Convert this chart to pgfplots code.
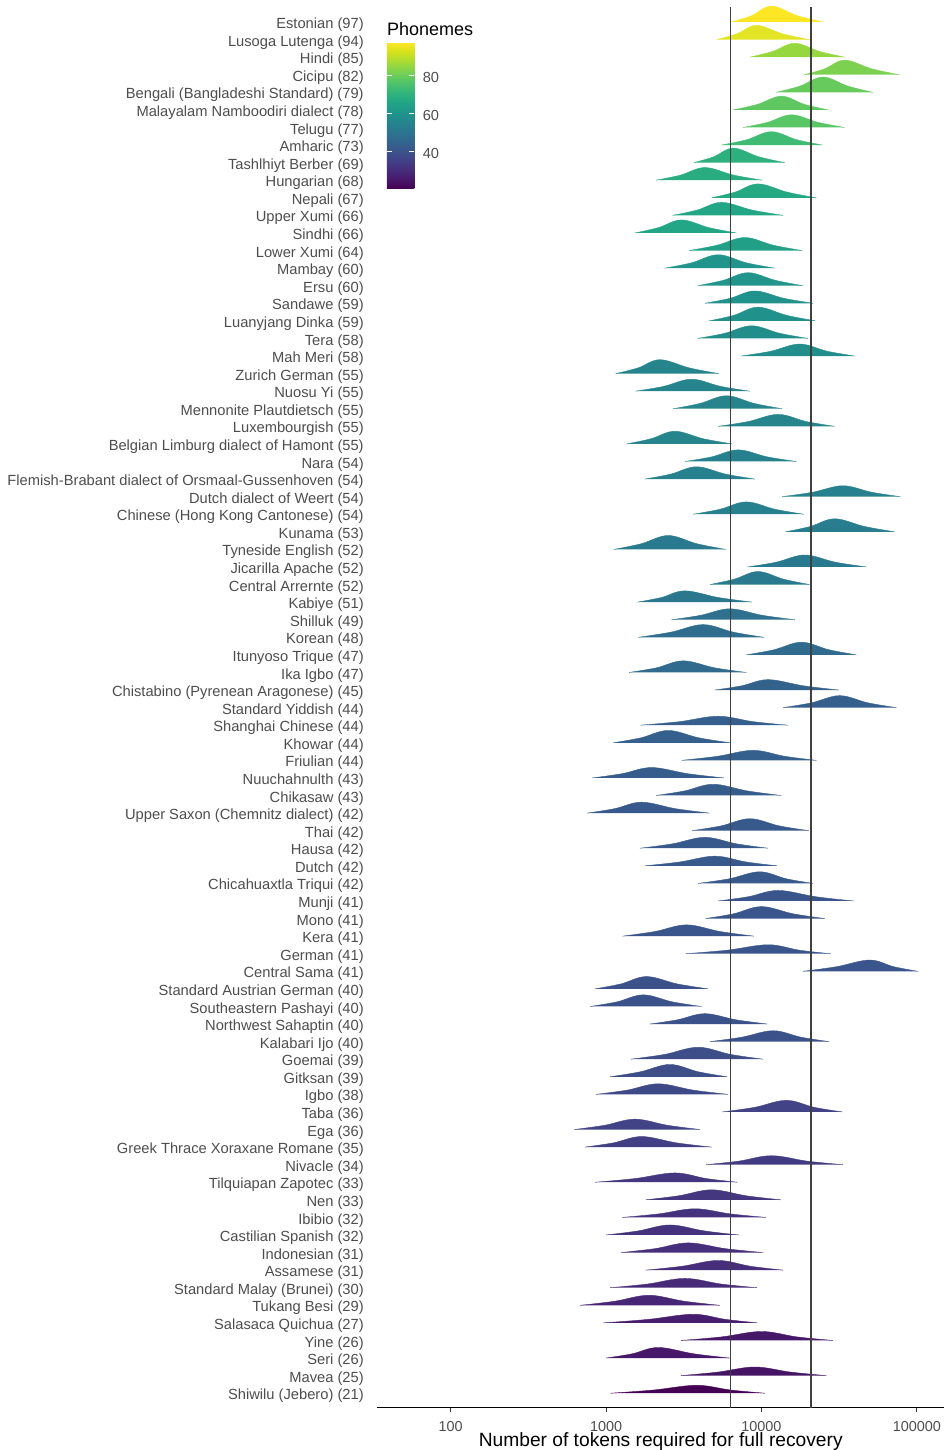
\documentclass[border=0pt]{standalone}
\usepackage{pgfplots}
\pgfplotsset{compat=1.18}
\usepackage{fontspec}
\setmainfont{Liberation Sans}
\definecolor{V0}{HTML}{440154}
\definecolor{V1}{HTML}{482475}
\definecolor{V2}{HTML}{414487}
\definecolor{V3}{HTML}{355F8D}
\definecolor{V4}{HTML}{2A788E}
\definecolor{V5}{HTML}{21918C}
\definecolor{V6}{HTML}{22A884}
\definecolor{V7}{HTML}{44BF70}
\definecolor{V8}{HTML}{7AD151}
\definecolor{V9}{HTML}{BDDF26}
\definecolor{V10}{HTML}{FDE725}
\definecolor{gray30}{HTML}{4D4D4D}
\colorlet{c97}{V10}
\colorlet{c94}{V10!60!V9}
\colorlet{c85}{V9!42!V8}
\colorlet{c82}{V9!3!V8}
\colorlet{c79}{V8!63!V7}
\colorlet{c78}{V8!50!V7}
\colorlet{c77}{V8!37!V7}
\colorlet{c73}{V7!84!V6}
\colorlet{c69}{V7!32!V6}
\colorlet{c68}{V7!18!V6}
\colorlet{c67}{V7!5!V6}
\colorlet{c66}{V6!92!V5}
\colorlet{c64}{V6!66!V5}
\colorlet{c60}{V6!13!V5}
\colorlet{c59}{V5}
\colorlet{c58}{V5!87!V4}
\colorlet{c55}{V5!47!V4}
\colorlet{c54}{V5!34!V4}
\colorlet{c53}{V5!21!V4}
\colorlet{c52}{V5!8!V4}
\colorlet{c51}{V4!95!V3}
\colorlet{c49}{V4!68!V3}
\colorlet{c48}{V4!55!V3}
\colorlet{c47}{V4!42!V3}
\colorlet{c45}{V4!16!V3}
\colorlet{c44}{V4!3!V3}
\colorlet{c43}{V3!89!V2}
\colorlet{c42}{V3!76!V2}
\colorlet{c41}{V3!63!V2}
\colorlet{c40}{V3!50!V2}
\colorlet{c39}{V3!37!V2}
\colorlet{c38}{V3!24!V2}
\colorlet{c36}{V2!97!V1}
\colorlet{c35}{V2!84!V1}
\colorlet{c34}{V2!71!V1}
\colorlet{c33}{V2!58!V1}
\colorlet{c32}{V2!45!V1}
\colorlet{c31}{V2!32!V1}
\colorlet{c30}{V2!18!V1}
\colorlet{c29}{V2!5!V1}
\colorlet{c27}{V1!79!V0}
\colorlet{c26}{V1!66!V0}
\colorlet{c25}{V1!53!V0}
\colorlet{c21}{V0}
\pgfplotsset{rd/.style={smooth, tension=0.6, line width=0.2pt}}
\begin{document}
\begin{tikzpicture}
\useasboundingbox (-188.75pt,-21.2pt) rectangle (283.75pt,703.8pt);
\begin{axis}[
  at={(0pt,0pt)}, anchor=south west,
  scale only axis, width=283.25pt, height=700.5pt,
  xmin=1.530, xmax=5.174,
  ymin=-0.876, ymax=78.82, y dir=reverse,
  axis x line*=bottom, axis y line*=left,
  x axis line style={-, line width=0.7pt, black},
  y axis line style={draw=none},
  xtick={2,3,4,5}, xticklabels={100,1000,10000,100000},
  tick align=outside, major tick length=2.2pt,
  xtick style={black!80, line width=0.5pt},
  ytick={0,1,...,78},
  ytick style={draw=none},
  yticklabels={Estonian (97),Lusoga Lutenga (94),Hindi (85),Cicipu (82),Bengali (Bangladeshi Standard) (79),Malayalam Namboodiri dialect (78),Telugu (77),Amharic (73),Tashlhiyt Berber (69),Hungarian (68),Nepali (67),Upper Xumi (66),Sindhi (66),Lower Xumi (64),Mambay (60),Ersu (60),Sandawe (59),Luanyjang Dinka (59),Tera (58),Mah Meri (58),Zurich German (55),Nuosu Yi (55),Mennonite Plautdietsch (55),Luxembourgish (55),Belgian Limburg dialect of Hamont (55),Nara (54),Flemish-Brabant dialect of Orsmaal-Gussenhoven (54),Dutch dialect of Weert (54),Chinese (Hong Kong Cantonese) (54),Kunama (53),Tyneside English (52),Jicarilla Apache (52),Central Arrernte (52),Kabiye (51),Shilluk (49),Korean (48),Itunyoso Trique (47),Ika Igbo (47),Chistabino (Pyrenean Aragonese) (45),Standard Yiddish (44),Shanghai Chinese (44),Khowar (44),Friulian (44),Nuuchahnulth (43),Chikasaw (43),Upper Saxon (Chemnitz dialect) (42),Thai (42),Hausa (42),Dutch (42),Chicahuaxtla Triqui (42),Munji (41),Mono (41),Kera (41),German (41),Central Sama (41),Standard Austrian German (40),Southeastern Pashayi (40),Northwest Sahaptin (40),Kalabari Ijo (40),Goemai (39),Gitksan (39),Igbo (38),Taba (36),Ega (36),Greek Thrace Xoraxane Romane (35),Nivacle (34),Tilquiapan Zapotec (33),Nen (33),Ibibio (32),Castilian Spanish (32),Indonesian (31),Assamese (31),Standard Malay (Brunei) (30),Tukang Besi (29),Salasaca Quichua (27),Yine (26),Seri (26),Mavea (25),Shiwilu (Jebero) (21)},
  yticklabel style={font=\fontsize{7.35}{8}\selectfont, text=gray30, inner xsep=0pt, yshift=-1.4pt},
  yticklabel shift=4.5pt,
  xticklabel style={font=\fontsize{7.2}{8}\selectfont, text=gray30, yshift=-1pt},
  xlabel={Number of tokens required for full recovery},
  xlabel style={font=\fontsize{9.6}{11}\selectfont, at={(axis description cs:0.5,0)}, anchor=center, yshift=-17.2pt},
  colormap/viridis,
  colorbar,
  point meta min=21, point meta max=97,
  colorbar style={
    at={(parent axis.north west)}, anchor=north west,
    xshift=-3.9pt, yshift=-18pt,
    scale only axis, width=13.8pt, height=72.85pt,
    ytick={40,60,80},
    yticklabel pos=right, ytick pos=both,
    tick align=inside, major tick length=2.75pt,
    tick style={white, line width=0.5pt},
    axis line style={draw=none},
    yticklabel style={font=\fontsize{7.3}{8}\selectfont, text=gray30, inner xsep=0pt, xshift=4pt, yshift=-1pt},
    /pgf/number format/assume math mode=true,
    title={Phonemes},
    title style={font=\fontsize{9}{10}\selectfont, at={(0,1)}, anchor=south west, inner sep=0pt, yshift=-2.5pt},
  },
]
\addplot[rd, fill=c97, draw=c97] coordinates {(3.807,0) (3.936,-0.36) (4.064,-0.91) (4.230,-0.36) (4.396,0)};
\addplot[rd, fill=c94, draw=c94] coordinates {(3.711,1) (3.840,0.68) (3.968,0.19) (4.139,0.68) (4.310,1)};
\addplot[rd, fill=c85, draw=c85] coordinates {(3.925,2) (4.070,1.68) (4.214,1.21) (4.375,1.68) (4.535,2)};
\addplot[rd, fill=c82, draw=c82] coordinates {(4.274,3) (4.405,2.67) (4.535,2.17) (4.712,2.67) (4.888,3)};
\addplot[rd, fill=c79, draw=c79] coordinates {(4.096,4) (4.246,3.65) (4.396,3.13) (4.557,3.65) (4.717,4)};
\addplot[rd, fill=c78, draw=c78] coordinates {(3.818,5) (3.973,4.69) (4.128,4.22) (4.278,4.69) (4.428,5)};
\addplot[rd, fill=c77, draw=c77] coordinates {(3.882,6) (4.038,5.71) (4.193,5.28) (4.364,5.71) (4.535,6)};
\addplot[rd, fill=c73, draw=c73] coordinates {(3.743,7) (3.904,6.70) (4.064,6.24) (4.228,6.70) (4.392,7)};
\addplot[rd, fill=c69, draw=c69] coordinates {(3.565,8) (3.692,7.67) (3.818,7.17) (3.984,7.67) (4.150,8)};
\addplot[rd, fill=c68, draw=c68] coordinates {(3.321,9) (3.479,8.71) (3.636,8.28) (3.821,8.71) (4.006,9)};
\addplot[rd, fill=c67, draw=c67] coordinates {(3.679,10) (3.829,9.68) (3.978,9.21) (4.166,9.68) (4.353,10)};
\addplot[rd, fill=c66, draw=c66] coordinates {(3.428,11) (3.586,10.70) (3.743,10.26) (3.941,10.70) (4.139,11)};
\addplot[rd, fill=c66, draw=c66] coordinates {(3.186,12) (3.336,11.70) (3.486,11.26) (3.663,11.70) (3.839,12)};
\addplot[rd, fill=c64, draw=c64] coordinates {(3.535,13) (3.714,12.70) (3.893,12.26) (4.077,12.70) (4.261,13)};
\addplot[rd, fill=c60, draw=c60] coordinates {(3.379,14) (3.550,13.70) (3.721,13.24) (3.903,13.70) (4.085,14)};
\addplot[rd, fill=c60, draw=c60] coordinates {(3.589,15) (3.752,14.70) (3.914,14.26) (4.091,14.70) (4.267,15)};
\addplot[rd, fill=c59, draw=c59] coordinates {(3.636,16) (3.797,15.72) (3.957,15.30) (4.145,15.72) (4.332,16)};
\addplot[rd, fill=c59, draw=c59] coordinates {(3.664,17) (3.821,16.69) (3.978,16.22) (4.163,16.69) (4.347,17)};
\addplot[rd, fill=c58, draw=c58] coordinates {(3.589,18) (3.763,17.71) (3.936,17.28) (4.118,17.71) (4.300,18)};
\addplot[rd, fill=c58, draw=c58] coordinates {(3.871,19) (4.059,18.73) (4.246,18.32) (4.423,18.73) (4.599,19)};
\addplot[rd, fill=c55, draw=c55] coordinates {(3.062,20) (3.205,19.68) (3.347,19.21) (3.537,19.68) (3.726,20)};
\addplot[rd, fill=c55, draw=c55] coordinates {(3.190,21) (3.370,20.73) (3.550,20.32) (3.738,20.73) (3.925,21)};
\addplot[rd, fill=c55, draw=c55] coordinates {(3.432,22) (3.604,21.70) (3.775,21.26) (3.954,21.70) (4.133,22)};
\addplot[rd, fill=c55, draw=c55] coordinates {(3.721,23) (3.914,22.73) (4.107,22.32) (4.289,22.73) (4.471,23)};
\addplot[rd, fill=c55, draw=c55] coordinates {(3.133,24) (3.288,23.71) (3.443,23.28) (3.627,23.71) (3.811,24)};
\addplot[rd, fill=c54, draw=c54] coordinates {(3.507,25) (3.679,24.74) (3.850,24.34) (4.038,24.74) (4.225,25)};
\addplot[rd, fill=c54, draw=c54] coordinates {(3.250,26) (3.416,25.72) (3.582,25.30) (3.770,25.72) (3.957,26)};
\addplot[rd, fill=c54, draw=c54] coordinates {(4.133,27) (4.329,26.75) (4.524,26.38) (4.709,26.75) (4.893,27)};
\addplot[rd, fill=c54, draw=c54] coordinates {(3.561,28) (3.732,27.72) (3.903,27.30) (4.088,27.72) (4.272,28)};
\addplot[rd, fill=c53, draw=c53] coordinates {(4.154,29) (4.313,28.70) (4.471,28.26) (4.664,28.70) (4.856,29)};
\addplot[rd, fill=c52, draw=c52] coordinates {(3.051,30) (3.226,29.68) (3.400,29.21) (3.585,29.68) (3.769,30)};
\addplot[rd, fill=c52, draw=c52] coordinates {(3.910,31) (4.094,30.73) (4.278,30.32) (4.476,30.73) (4.674,31)};
\addplot[rd, fill=c52, draw=c52] coordinates {(3.668,32) (3.823,31.70) (3.978,31.26) (4.144,31.70) (4.310,32)};
\addplot[rd, fill=c51, draw=c51] coordinates {(3.203,33) (3.355,32.74) (3.507,32.36) (3.724,32.74) (3.940,33)};
\addplot[rd, fill=c49, draw=c49] coordinates {(3.422,34) (3.609,33.75) (3.796,33.38) (4.005,33.75) (4.214,34)};
\addplot[rd, fill=c48, draw=c48] coordinates {(3.208,35) (3.417,34.71) (3.625,34.28) (3.820,34.71) (4.015,35)};
\addplot[rd, fill=c47, draw=c47] coordinates {(3.903,36) (4.080,35.71) (4.257,35.28) (4.434,35.71) (4.610,36)};
\addplot[rd, fill=c47, draw=c47] coordinates {(3.148,37) (3.323,36.74) (3.497,36.34) (3.700,36.74) (3.903,37)};
\addplot[rd, fill=c45, draw=c45] coordinates {(3.700,38) (3.872,37.76) (4.043,37.41) (4.270,37.76) (4.497,38)};
\addplot[rd, fill=c44, draw=c44] coordinates {(4.139,39) (4.321,38.73) (4.503,38.32) (4.685,38.73) (4.867,39)};
\addplot[rd, fill=c44, draw=c44] coordinates {(3.223,40) (3.472,39.80) (3.721,39.49) (3.946,39.80) (4.171,40)};
\addplot[rd, fill=c44, draw=c44] coordinates {(3.047,41) (3.224,40.72) (3.400,40.30) (3.598,40.72) (3.796,41)};
\addplot[rd, fill=c44, draw=c44] coordinates {(3.486,42) (3.716,41.77) (3.946,41.43) (4.150,41.77) (4.353,42)};
\addplot[rd, fill=c43, draw=c43] coordinates {(2.912,43) (3.103,42.76) (3.293,42.41) (3.526,42.76) (3.758,43)};
\addplot[rd, fill=c43, draw=c43] coordinates {(3.321,44) (3.505,43.74) (3.689,43.36) (3.909,43.74) (4.128,44)};
\addplot[rd, fill=c42, draw=c42] coordinates {(2.880,45) (3.055,44.75) (3.229,44.38) (3.447,44.75) (3.664,45)};
\addplot[rd, fill=c42, draw=c42] coordinates {(3.554,46) (3.740,45.73) (3.925,45.32) (4.115,45.73) (4.304,46)};
\addplot[rd, fill=c42, draw=c42] coordinates {(3.218,47) (3.427,46.75) (3.636,46.38) (3.840,46.75) (4.043,47)};
\addplot[rd, fill=c42, draw=c42] coordinates {(3.250,48) (3.475,47.78) (3.700,47.45) (3.900,47.78) (4.100,48)};
\addplot[rd, fill=c42, draw=c42] coordinates {(3.593,49) (3.791,48.74) (3.989,48.34) (4.161,48.74) (4.332,49)};
\addplot[rd, fill=c41, draw=c41] coordinates {(3.721,50) (3.914,49.76) (4.107,49.40) (4.350,49.76) (4.593,50)};
\addplot[rd, fill=c41, draw=c41] coordinates {(3.640,51) (3.820,50.73) (4.000,50.32) (4.204,50.73) (4.407,51)};
\addplot[rd, fill=c41, draw=c41] coordinates {(3.107,52) (3.313,51.74) (3.518,51.36) (3.735,51.74) (3.951,52)};
\addplot[rd, fill=c41, draw=c41] coordinates {(3.512,53) (3.778,52.80) (4.043,52.49) (4.244,52.80) (4.445,53)};
\addplot[rd, fill=c41, draw=c41] coordinates {(4.267,54) (4.482,53.74) (4.696,53.36) (4.851,53.74) (5.006,54)};
\addplot[rd, fill=c40, draw=c40] coordinates {(2.929,55) (3.095,54.72) (3.261,54.30) (3.459,54.72) (3.657,55)};
\addplot[rd, fill=c40, draw=c40] coordinates {(2.899,56) (3.070,55.74) (3.240,55.34) (3.427,55.74) (3.614,56)};
\addplot[rd, fill=c40, draw=c40] coordinates {(3.282,57) (3.459,56.76) (3.636,56.41) (3.837,56.76) (4.038,57)};
\addplot[rd, fill=c40, draw=c40] coordinates {(3.668,58) (3.872,57.75) (4.075,57.38) (4.255,57.75) (4.435,58)};
\addplot[rd, fill=c39, draw=c39] coordinates {(3.158,59) (3.376,58.73) (3.593,58.32) (3.802,58.73) (4.011,59)};
\addplot[rd, fill=c39, draw=c39] coordinates {(3.026,60) (3.219,59.72) (3.411,59.30) (3.595,59.72) (3.779,60)};
\addplot[rd, fill=c38, draw=c38] coordinates {(2.936,61) (3.136,60.76) (3.336,60.40) (3.561,60.76) (3.786,61)};
\addplot[rd, fill=c36, draw=c36] coordinates {(3.749,62) (3.955,61.74) (4.160,61.34) (4.340,61.74) (4.520,62)};
\addplot[rd, fill=c36, draw=c36] coordinates {(2.796,63) (2.991,62.76) (3.186,62.41) (3.395,62.76) (3.604,63)};
\addplot[rd, fill=c35, draw=c35] coordinates {(2.865,64) (3.047,63.76) (3.229,63.40) (3.454,63.76) (3.679,64)};
\addplot[rd, fill=c34, draw=c34] coordinates {(3.642,65) (3.853,64.80) (4.064,64.49) (4.294,64.80) (4.524,65)};
\addplot[rd, fill=c33, draw=c33] coordinates {(2.929,66) (3.186,65.79) (3.443,65.47) (3.645,65.79) (3.846,66)};
\addplot[rd, fill=c33, draw=c33] coordinates {(3.255,67) (3.467,66.77) (3.679,66.43) (3.902,66.77) (4.124,67)};
\addplot[rd, fill=c32, draw=c32] coordinates {(3.105,68) (3.339,67.80) (3.572,67.51) (3.800,67.80) (4.028,68)};
\addplot[rd, fill=c32, draw=c32] coordinates {(3.000,69) (3.206,68.77) (3.411,68.43) (3.633,68.77) (3.854,69)};
\addplot[rd, fill=c31, draw=c31] coordinates {(3.096,70) (3.313,69.78) (3.529,69.45) (3.770,69.78) (4.011,70)};
\addplot[rd, fill=c31, draw=c31] coordinates {(3.255,71) (3.488,70.78) (3.721,70.45) (3.930,70.78) (4.139,71)};
\addplot[rd, fill=c30, draw=c30] coordinates {(3.026,72) (3.267,71.79) (3.507,71.47) (3.740,71.79) (3.972,72)};
\addplot[rd, fill=c29, draw=c29] coordinates {(2.833,73) (3.055,72.77) (3.276,72.43) (3.504,72.77) (3.732,73)};
\addplot[rd, fill=c27, draw=c27] coordinates {(2.983,74) (3.272,73.80) (3.561,73.51) (3.768,73.80) (3.974,74)};
\addplot[rd, fill=c26, draw=c26] coordinates {(3.482,75) (3.741,74.80) (4.000,74.49) (4.230,74.80) (4.460,75)};
\addplot[rd, fill=c26, draw=c26] coordinates {(3.000,76) (3.168,75.76) (3.336,75.40) (3.566,75.76) (3.796,76)};
\addplot[rd, fill=c25, draw=c25] coordinates {(3.482,77) (3.720,76.80) (3.957,76.51) (4.187,76.80) (4.417,77)};
\addplot[rd, fill=c21, draw=c21] coordinates {(3.030,78) (3.306,77.82) (3.582,77.55) (3.802,77.82) (4.021,78)};
\addplot[black!75, line width=0.75pt] coordinates {(3.80,-0.876) (3.80,78.82)};
\addplot[black!75, line width=0.75pt] coordinates {(4.317,-0.876) (4.317,78.82)};
\end{axis}
\end{tikzpicture}
\end{document}
